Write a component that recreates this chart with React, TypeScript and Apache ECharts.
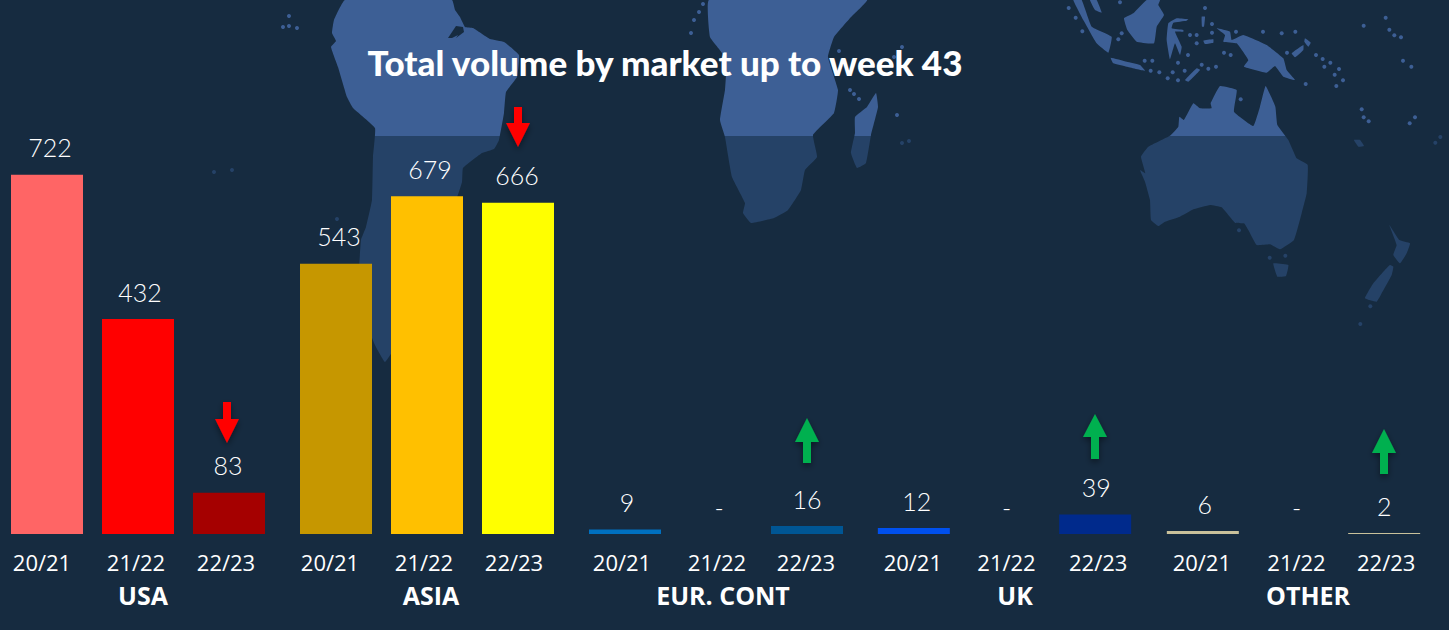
import React, { useEffect, useRef } from "react";
import * as echarts from "echarts";

const categories = ["20/21", "21/22", "22/23"];
const usaValues = [722, 432, 83];
const asiaValues = [543, 679, 666];
const eurValues = [9, 0, 16];
const ukValues = [12, 0, 39];
const otherValues = [6, 0, 2];
const usaColors = ["#FF6565", "#FF0000", "#A50000"];
const asiaColors = ["#C69700", "#FFC000", "#FFFF00"];
const eurColors = ["#0070C0", "#0070C0", "#005694"];
const ukColors = ["#0050EE", "#0050EE", "#002A8C"];
const otherColors = ["#C9C19B", "#C9C19B", "#C9C19B"];
const groupNames = ["USA", "ASIA", "EUR. CONT", "UK", "OTHER"];

const BG = "#162B40";
const LIGHT = "#3D5F95";
const DARK = "#254267";

// decorative world-map background, page coordinates
const z2 = (pts: number[][]) => pts.map(([x, y]) => [1040 + x / 3, y / 3]);
const landShapes: number[][][] = [
  // South America
  [[345,0],[334,20],[332,33],[336,41],[331,47],[338,67],[347,97],[353,108],[375,128],[373,157],[372,200],[366,227],[361,240],[358,300],[375,345],[385,362],[393,350],[400,300],[440,215],[457,197],[462,182],[463,168],[482,153],[494,149],[499,140],[504,113],[506,92],[517,77],[519,55],[504,42],[490,39],[473,28],[465,27],[460,17],[455,10],[452,0]],
  // Africa
  [[867,0],[851,17],[834,37],[828,57],[838,90],[834,113],[813,135],[817,157],[805,170],[801,190],[788,210],[774,218],[751,223],[743,213],[745,203],[732,177],[725,137],[720,120],[725,90],[726,73],[722,53],[710,37],[709,0]],
  // Madagascar
  [[876,93],[878,107],[871,135],[866,163],[857,168],[851,153],[855,133],[855,117],[867,107]],
  // Australia
  z2([[540,258],[590,270],[582,335],[640,378],[660,320],[677,258],[706,320],[712,375],[745,420],[770,475],[803,495],[800,580],[785,640],[762,720],[720,748],[690,733],[650,735],[625,690],[612,670],[585,668],[545,622],[510,615],[460,628],[420,650],[375,665],[355,678],[333,660],[330,600],[315,545],[300,510],[316,520],[303,470],[325,440],[390,407],[415,380],[418,350],[432,360],[460,310],[480,325],[515,325],[512,310]]),
  // Tasmania
  z2([[700,790],[745,795],[738,828],[712,830]]),
  // New Zealand
  z2([[1050,795],[1060,800],[1055,825],[1025,880],[1010,905],[975,895],[1000,850],[1030,815]]),
  z2([[1048,675],[1078,720],[1110,730],[1100,760],[1080,790],[1060,765],[1070,735]]),
  // New Guinea
  z2([[530,85],[570,95],[575,120],[610,105],[680,135],[730,175],[740,210],[765,240],[730,230],[705,198],[680,218],[612,200],[625,180],[590,130],[550,125],[555,105]]),
  // Borneo
  z2([[320,0],[360,0],[355,15],[372,45],[350,80],[342,130],[290,125],[262,90],[252,55],[280,40]]),
  // Sumatra
  z2([[100,0],[125,0],[155,80],[215,110],[205,158],[170,130],[130,60]]),
  z2([[150,0],[170,0],[185,38],[165,30]]),
  // Java
  z2([[212,173],[260,185],[300,195],[315,212],[260,200],[220,190]]),
  // Sulawesi
  z2([[385,70],[410,55],[445,58],[440,62],[400,68],[395,85],[430,90],[430,95],[405,95],[425,140],[420,165],[405,130],[390,178],[380,120]]),
  // small islands
  z2([[435,240],[470,205],[480,210],[445,245]]),
  z2([[755,160],[790,135],[790,150],[765,172]]),
  z2([[795,115],[812,128],[805,140],[793,125]]),
  z2([[942,420],[960,420],[972,438],[955,440]]),
  z2([[485,50],[495,50],[492,80],[486,80]]),
  z2([[490,122],[520,118],[520,128],[495,132]]),
];
const bayShape = [[448,38],[456,26],[463,27],[464,32],[456,38],[458,35],[452,38]];
const dots: number[][] = [
  [289,16],[283,27],[289,26],[297,28],[703,4],[699,12],[694,20],[691,33],[839,51],[850,90],[854,94],[859,99],
  [902,47],[894,57],[897,115],[902,143],[909,141],[337,219],[214,172],[232,170],
  ...z2([[86,24],[107,53],[127,94],[240,7],[245,100],[235,118],[495,24],[516,72],[516,98],[450,105],[470,105],[470,130],[588,95],[669,95],[725,100],[766,95],[444,165],[552,158],[572,165],[741,158],[828,165],[848,177],[871,188],[853,200],[897,207],[884,224],[909,241],[889,258],[797,252],[314,182],[337,182],[332,212],[358,217],[398,217],[383,235],[414,241],[434,212],[414,188],[485,194],[505,206],[528,200],[602,298],[971,77],[1037,53],[1048,89],[1063,106],[1083,112],[1089,182],[1114,200],[965,328],[971,352],[986,364],[1125,352],[1109,370],[1201,411],[1186,428],[597,691],[689,773],[736,767],[991,919],[961,972]]),
];

const LAND_FILL = {
  type: "linear", x: 0, y: 0, x2: 0, y2: 630, global: true,
  colorStops: [
    { offset: 0, color: LIGHT },
    { offset: 135.5 / 630, color: LIGHT },
    { offset: 135.5 / 630, color: DARK },
    { offset: 1, color: DARK },
  ],
};

const downArrows = [
  { x: 227, top: 402, base: 419, tip: 443, color: "#FF0000" },
  { x: 518, top: 107, base: 123, tip: 147, color: "#FF0000" },
];
const upArrows = [
  { x: 807, tip: 418, base: 442, bottom: 463, color: "#00B050" },
  { x: 1095, tip: 414, base: 437, bottom: 459, color: "#00B050" },
  { x: 1384, tip: 429, base: 453, bottom: 474, color: "#00B050" },
];
const arrowPoly = (x: number, a: number, b: number, c: number) => [
  [x - 4, a], [x + 4, a], [x + 4, b], [x + 12, b], [x, c], [x - 12, b], [x - 4, b],
];
const shadow = { shadowBlur: 6, shadowColor: "rgba(0,0,0,0.45)", shadowOffsetY: 3 };

const groupLefts = [1.5, 290.5, 579.5, 868.5, 1157.5];
const groupWidths = [273, 273, 273, 272, 272];
const groupNameX = [143, 431, 723, 1015, 1308];
const allValues = [usaValues, asiaValues, eurValues, ukValues, otherValues];
const allColors = [usaColors, asiaColors, eurColors, ukColors, otherColors];
const valueLabelShift = [[3, 2, -1], [3, 3, -1], [2, 3, 0], [3, 2, 1], [2, 3, 0]];
const tickLabelShift = [[-5, -2, -3], [-6, -3, -4], [-3, 1, -1], [-1, 2, 3], [-1, 3, 2]];

export default function App() {
  const ref = useRef<HTMLDivElement>(null);
  useEffect(() => {
    const chart = echarts.init(ref.current!, undefined, { renderer: "svg" });
    const graphic: any[] = [
      ...landShapes.map((pts) => ({
        type: "polygon", silent: true, z: -10,
        shape: { points: pts, smooth: 0.1 },
        style: { fill: LAND_FILL },
      })),
      { type: "polygon", silent: true, z: -9, shape: { points: bayShape }, style: { fill: BG } },
      ...dots.map(([x, y]) => ({
        type: "circle", silent: true, z: -9,
        shape: { cx: x, cy: y, r: 2 },
        style: { fill: y < 135.5 ? LIGHT : DARK },
      })),
      ...downArrows.map((a) => ({
        type: "polygon", silent: true, z: 5,
        shape: { points: arrowPoly(a.x, a.top, a.base, a.tip) },
        style: { fill: a.color, ...shadow },
      })),
      ...upArrows.map((a) => ({
        type: "polygon", silent: true, z: 5,
        shape: { points: arrowPoly(a.x, a.bottom, a.base, a.tip) },
        style: { fill: a.color, ...shadow },
      })),
      ...groupNames.map((name, i) => ({
        type: "text", silent: true, z: 6, x: groupNameX[i], y: 595,
        style: {
          text: name, fill: "#FFFFFF", align: "center", verticalAlign: "middle",
          font: "bold 25px 'Open Sans'",
        },
      })),
    ];
    chart.setOption({
      animation: false,
      backgroundColor: BG,
      title: {
        text: "Total volume by market up to week 43",
        left: 665, top: 39, textAlign: "center",
        textStyle: { color: "#FFFFFF", fontFamily: "Lato", fontWeight: 900, fontSize: 35 },
        padding: [5, 10, 5, 0],
      },
      graphic,
      grid: groupLefts.map((left, i) => ({ left, width: groupWidths[i], top: 34, height: 500 })),
      xAxis: groupLefts.map((_, i) => ({
        type: "category", gridIndex: i,
        data: categories.map((c, j) => {
          const s = tickLabelShift[i][j] * 2;
          return { value: c, textStyle: { padding: [0, s < 0 ? -s : 0, 0, s > 0 ? s : 0] } };
        }),
        axisLine: { show: false }, axisTick: { show: false },
        axisLabel: { color: "#FFFFFF", fontFamily: "Open Sans", fontSize: 22, margin: 17, interval: 0 },
      })),
      yAxis: groupLefts.map((_, i) => ({ type: "value", gridIndex: i, min: 0, max: 1005, show: false })),
      series: allValues.map((vals, i) => ({
        type: "bar", xAxisIndex: i, yAxisIndex: i, barWidth: 72,
        data: vals.map((v, j) => ({
          value: v,
          itemStyle: { color: allColors[i][j] },
          label: { offset: [valueLabelShift[i][j], 0] },
        })),
        label: {
          show: true, position: "top", distance: 15, color: "#FFFFFF",
          fontFamily: "Lato", fontWeight: 300, fontSize: 25,
          formatter: (p: any) => (p.value === 0 ? "-" : String(p.value)),
        },
      })),
    });
    return () => chart.dispose();
  }, []);
  return <div ref={ref} style={{ position: "absolute", left: 0, top: 0, width: 1449, height: 630 }} />;
}
